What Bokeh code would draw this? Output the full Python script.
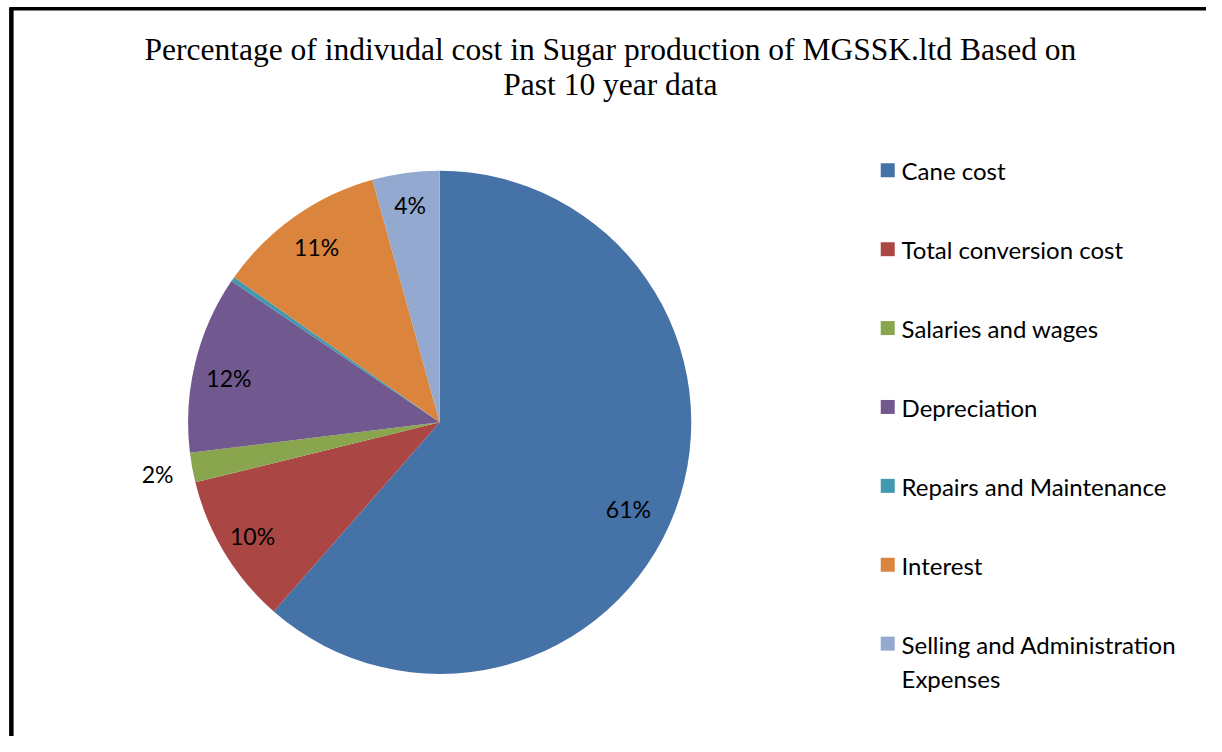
import numpy as np
from bokeh.plotting import figure
from bokeh.models import Range1d, ColumnDataSource
from bokeh.core.properties import value
from bokeh.embed import file_html
from bokeh.resources import INLINE

# ---- data ----
categories = ["Cane cost", "Total conversion cost", "Salaries and wages",
              "Depreciation", "Repairs and Maintenance", "Interest",
              "Selling and Administration\nExpenses"]
shares = [61.4, 9.7, 1.9, 11.4, 0.3, 10.9, 4.3]
pct_labels = ["61%", "10%", "2%", "12%", "", "11%", "4%"]
colors = ["#4572A7", "#AA4643", "#89A54E", "#71588F", "#4198AF", "#DB843D", "#93A9CF"]
title_lines = ["Percentage of indivudal cost in Sugar production of MGSSK.ltd Based on",
               "Past 10 year data"]

# ---- layout (pixel-like data coordinates, y up) ----
W, H = 1206, 736
KX, KY = W / 1222.0, H / 752.0
def sx(x):  # reference-image x -> data x
    return x * KX
def sy(y):  # reference-image y -> data y
    return H - y * KY

cx, cy, R = sx(445), sy(431), 256 * (KX + KY) / 2
label_factor = [0.825, 0.87, 1.14, 0.856, 0.86, 0.85, 0.87]
label_shift_deg = [4.0, 0.0, 0.0, -1.8, 0.0, 0.0, 0.0]

vals = np.array(shares, dtype=float)
frac = vals / vals.sum()
cum_end = np.cumsum(frac)
cum_start = cum_end - frac
theta_s = 2 * np.pi * cum_start   # clockwise from top
theta_e = 2 * np.pi * cum_end
mid = (theta_s + theta_e) / 2 + np.radians(label_shift_deg)

src = ColumnDataSource(dict(
    start=np.pi / 2 - theta_s,
    end=np.pi / 2 - theta_e,
    color=colors,
    cat=categories,
))

p = figure(width=W, height=H, output_backend="svg", toolbar_location=None,
           x_range=Range1d(0, W), y_range=Range1d(0, H),
           x_axis_type=None, y_axis_type=None, min_border=0,
           background_fill_color="white", border_fill_color="white")
p.grid.visible = False
p.outline_line_color = None

p.wedge(x=cx, y=cy, radius=R, start_angle="start", end_angle="end",
        direction="clock", fill_color="color", line_color=None, source=src)

# percentage labels
lf = np.array(label_factor)
lab_src = ColumnDataSource(dict(
    x=cx + R * lf * np.sin(mid),
    y=cy + R * lf * np.cos(mid),
    t=pct_labels,
))
p.text(x="x", y="y", text="t", source=lab_src, text_font=value("Lato"),
       text_font_size="23px", text_align="center", text_baseline="middle",
       text_color="black")

# legend (manual)
n = len(categories)
leg_y = np.array([sy(173.5 + 80.6 * i) for i in range(n)])
leg_src = ColumnDataSource(dict(
    x=[sx(899)] * n, y=leg_y, color=colors,
    tx=[sx(913)] * n, ty=leg_y + 14, t=categories,
))
p.rect(x="x", y="y", width=14, height=14, fill_color="color", line_color=None,
       source=leg_src)
p.text(x="tx", y="ty", text="t", source=leg_src, text_font=value("Lato"),
       text_font_size="24px", text_align="left", text_baseline="top",
       text_line_height=1.18, text_color="black")

# title
p.text(x=[sx(618)] * 2, y=[sy(50), sy(86)], text=title_lines,
       text_font=value("Liberation Serif"), text_font_size="31.5px",
       text_align="center", text_baseline="middle", text_color="black")

# frame border (left and top)
p.line(x=[sx(11), sx(11)], y=[sy(8), sy(770)], line_color="black", line_width=4.5)
p.line(x=[sx(9), sx(1240)], y=[sy(8.5), sy(8.5)], line_color="black", line_width=3.5)

open("out.html", "w").write(file_html(p, INLINE))
